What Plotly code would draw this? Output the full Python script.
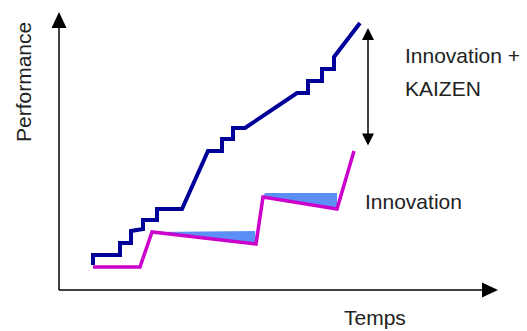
import plotly.graph_objects as go

# Performance curves over time (time, performance units; origin at the axes corner)
kaizen_t = [34, 34, 61, 61, 72, 72, 84, 84, 98, 98, 123, 149, 163, 163, 174, 174, 186,
            238, 249, 249, 263, 263, 275, 275, 301]
kaizen_p = [25, 35, 35, 47, 47, 59, 61, 70, 70, 81, 81, 139, 139, 151, 151, 162, 162,
            197, 197, 209, 209, 221, 221, 233, 267]

innov_t = [34, 81, 93, 197, 204, 278, 295]
innov_p = [23, 23, 58, 46, 93, 81, 139]

# Erosion zones after each innovation jump
loss1_t = [93, 196, 197, 93]
loss1_p = [58, 59, 46, 58]
loss2_t = [204, 206, 278, 278, 204]
loss2_p = [93, 97, 97, 81, 93]

# Axis extents (tips of the arrows)
x_tip = 439
y_tip = 278
gap_t = 309
gap_top, gap_bottom = 262, 143

NAVY = "#000099"
MAGENTA = "#cc00cc"
FILL = "#5b8ff5"
TXT = "#222222"
FONT = "Liberation Sans, Arial, sans-serif"

fig = go.Figure()

for tt, pp in ((loss1_t, loss1_p), (loss2_t, loss2_p)):
    fig.add_trace(go.Scatter(x=tt, y=pp, mode="lines", fill="toself",
                             fillcolor=FILL, line=dict(width=0, color=FILL),
                             hoverinfo="skip", showlegend=False))

fig.add_trace(go.Scatter(x=innov_t, y=innov_p, mode="lines",
                         line=dict(color=MAGENTA, width=3.5),
                         showlegend=False))
fig.add_trace(go.Scatter(x=kaizen_t, y=kaizen_p, mode="lines",
                         line=dict(color=NAVY, width=4),
                         showlegend=False))

# Axes drawn as arrows
ah_len, ah_half = 16, 7.5
fig.add_shape(type="line", x0=0, y0=0, x1=0, y1=y_tip - ah_len,
              line=dict(color="black", width=1.5))
fig.add_shape(type="line", x0=0, y0=0, x1=x_tip - ah_len, y1=0,
              line=dict(color="black", width=1.5))
fig.add_shape(type="path",
              path=f"M {-ah_half} {y_tip - ah_len} L {ah_half} {y_tip - ah_len} L 0 {y_tip} Z",
              fillcolor="black", line=dict(width=0))
fig.add_shape(type="path",
              path=f"M {x_tip - ah_len} {ah_half} L {x_tip - ah_len} {-ah_half} L {x_tip} 0 Z",
              fillcolor="black", line=dict(width=0))

# Double-headed gap arrow
fig.add_annotation(x=gap_t, y=gap_top, ax=gap_t, ay=gap_bottom,
                   xref="x", yref="y", axref="x", ayref="y",
                   showarrow=True, arrowhead=2, startarrowhead=2,
                   arrowside="end+start", arrowsize=1.6, startarrowsize=1.6,
                   arrowwidth=1.5, arrowcolor="black", text="")

labels = [
    ("Innovation +", 344, 235, "left", 0),
    ("KAIZEN", 344, 202, "left", 0),
    ("Innovation", 304, 89, "left", 0),
    ("Temps", 316, -27, "center", 0),
    ("Performance", -36, 208, "center", -90),
]
for txt, lx, ly, anchor, ang in labels:
    fig.add_annotation(x=lx, y=ly, text=txt, showarrow=False, xanchor=anchor,
                       yanchor="middle", textangle=ang,
                       font=dict(family=FONT, size=21, color=TXT))

fig.update_layout(
    width=527, height=331,
    margin=dict(l=0, r=0, t=0, b=0),
    paper_bgcolor="white", plot_bgcolor="white",
    xaxis=dict(range=[-59, 468], visible=False, fixedrange=True),
    yaxis=dict(range=[-41, 290], visible=False, fixedrange=True),
)

fig.write_html("out.html")
